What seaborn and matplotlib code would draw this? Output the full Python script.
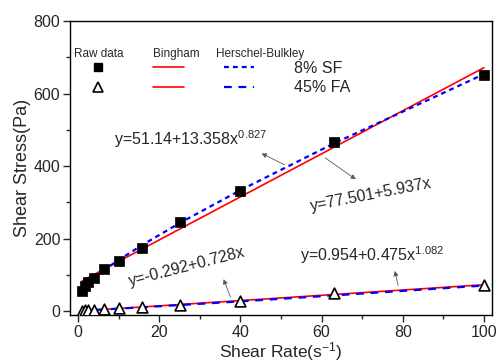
import matplotlib
matplotlib.use('Agg')
import matplotlib.pyplot as plt
import pandas as pd
import seaborn as sns
from matplotlib.lines import Line2D

# shear rates used in the test (1/s)
shear_rate = [1, 1.6, 2.5, 4, 6.3, 10, 15.8, 25, 40, 63, 100]

# raw shear stress (Pa)
stress_sf = [55, 70, 79, 90, 115, 138, 175, 245, 330, 465, 652]
stress_fa = [1, 1.5, 2, 3, 5, 7, 10, 17, 27, 50, 73]

# fitted models, read at the same shear rates
bingham_sf = [83.4, 87.0, 92.3, 101.2, 114.9, 136.9, 171.3, 225.9, 315.0, 451.5, 671.2]
bingham_fa = [0.44, 0.87, 1.53, 2.62, 4.29, 6.99, 11.21, 17.91, 28.83, 45.57, 72.51]
hb_sf = [64.5, 70.8, 79.6, 93.2, 112.3, 140.8, 182.1, 242.5, 333.4, 462.1, 653.3]
hb_fa = [1.43, 1.74, 2.23, 3.08, 4.43, 6.69, 10.36, 16.41, 26.66, 42.97, 70.26]

sns.set_style("ticks")
plt.rcParams['font.family'] = ['Liberation Sans', 'DejaVu Sans']
plt.rcParams['mathtext.fontset'] = 'custom'
plt.rcParams['mathtext.rm'] = 'Liberation Sans'
plt.rcParams['mathtext.it'] = 'Liberation Sans:italic'

df = pd.DataFrame({'rate': shear_rate, 'sf': stress_sf, 'fa': stress_fa,
                   'b_sf': bingham_sf, 'b_fa': bingham_fa,
                   'hb_sf': hb_sf, 'hb_fa': hb_fa})

fig = plt.figure(figsize=(4.98, 3.62), dpi=100)
ax = fig.add_axes([0.1406, 0.1298, 0.8474, 0.8122])

# fitted lines
sns.lineplot(data=df, x='rate', y='b_sf', color='#ff0000', lw=1.2, ax=ax)
sns.lineplot(data=df, x='rate', y='b_fa', color='#ff0000', lw=1.2, ax=ax)
sns.lineplot(data=df, x='rate', y='hb_sf', color='#0000ff', lw=1.6, ax=ax,
             dashes=False, linestyle=(0, (2.2, 1.8)))
sns.lineplot(data=df, x='rate', y='hb_fa', color='#0000ff', lw=1.6, ax=ax,
             dashes=False, linestyle=(0, (3.5, 3.0)))

# raw data
sns.scatterplot(data=df, x='rate', y='sf', marker='s', s=45, color='black',
                edgecolor='black', linewidth=0.5, ax=ax, zorder=3)
sns.scatterplot(data=df, x='rate', y='fa', marker='^', s=60, facecolor='white',
                edgecolor='black', linewidth=1.2, ax=ax, zorder=3)

ax.set_xlim(-2, 102)
ax.set_ylim(-11, 800)
ax.set_xticks([0, 20, 40, 60, 80, 100])
ax.set_xticks(range(10, 100, 20), minor=True)
ax.set_yticks([0, 200, 400, 600, 800])
ax.set_yticks([100, 300, 500, 700], minor=True)
ax.tick_params(which='major', direction='out', length=5, width=1, labelsize=11.5,
               top=False, right=False, pad=2)
ax.tick_params(which='minor', direction='out', length=3, width=1,
               top=False, right=False)
for s in ax.spines.values():
    s.set_linewidth(1)
    s.set_color('black')
    s.set_visible(True)

ax.set_xlabel(r'Shear Rate(s$\mathregular{^{-1}}$)', fontsize=12.5, labelpad=0)
ax.set_ylabel('Shear Stress(Pa)', fontsize=13, labelpad=2)

# equations and arrows
arrow = dict(arrowstyle='-|>', color='0.35', lw=0.6, mutation_scale=7)
ax.annotate('', xy=(44.6, 438), xytext=(51.5, 400), arrowprops=arrow)
ax.annotate('', xy=(69, 359), xytext=(60.3, 427), arrowprops=arrow)
ax.annotate('', xy=(35.6, 95), xytext=(37.8, 31), arrowprops=arrow)
ax.annotate('', xy=(77.9, 118), xytext=(79, 63), arrowprops=arrow)

ax.text(8.9, 457, r'y=51.14+13.358$\mathregular{x^{0.827}}$', fontsize=11.5,
        va='baseline', ha='left')
ax.text(72.2, 320, 'y=77.501+5.937x', fontsize=11.5, rotation=11,
        ha='center', va='center', rotation_mode='anchor')
ax.text(26.8, 123, 'y=-0.292+0.728x', fontsize=11.5, rotation=14.5,
        ha='center', va='center', rotation_mode='anchor')
ax.text(54.7, 138, r'y=0.954+0.475$\mathregular{x^{1.082}}$', fontsize=11.5,
        va='baseline', ha='left')

# legend: headers plus a 3-column grid of handles
ax.text(0.0095, 0.878, 'Raw data', fontsize=8.5, transform=ax.transAxes, va='baseline')
ax.text(0.196, 0.878, 'Bingham', fontsize=8.5, transform=ax.transAxes, va='baseline')
ax.text(0.345, 0.878, 'Herschel-Bulkley', fontsize=8.5, transform=ax.transAxes, va='baseline')

handles = [
    Line2D([], [], marker='s', ls='none', color='black', markersize=6.2),
    Line2D([], [], marker='^', ls='none', markerfacecolor='white',
           markeredgecolor='black', markeredgewidth=1.2, markersize=7),
    Line2D([], [], color='#ff0000', lw=1.2),
    Line2D([], [], color='#ff0000', lw=1.2),
    Line2D([], [], color='#0000ff', lw=1.6, linestyle=(0, (2.2, 1.8))),
    Line2D([], [], color='#0000ff', lw=1.6, linestyle=(0, (3.5, 3.0))),
]
labels = ['', '', '', '', '8% SF', '45% FA']
ax.legend(handles, labels, ncol=3, loc='upper left', bbox_to_anchor=(0.031, 0.865),
          frameon=False, fontsize=11.5, handlelength=1.9, handletextpad=2.5,
          columnspacing=0.0, labelspacing=0.28, borderpad=0, borderaxespad=0)

fig.savefig('out.png', dpi=100)
